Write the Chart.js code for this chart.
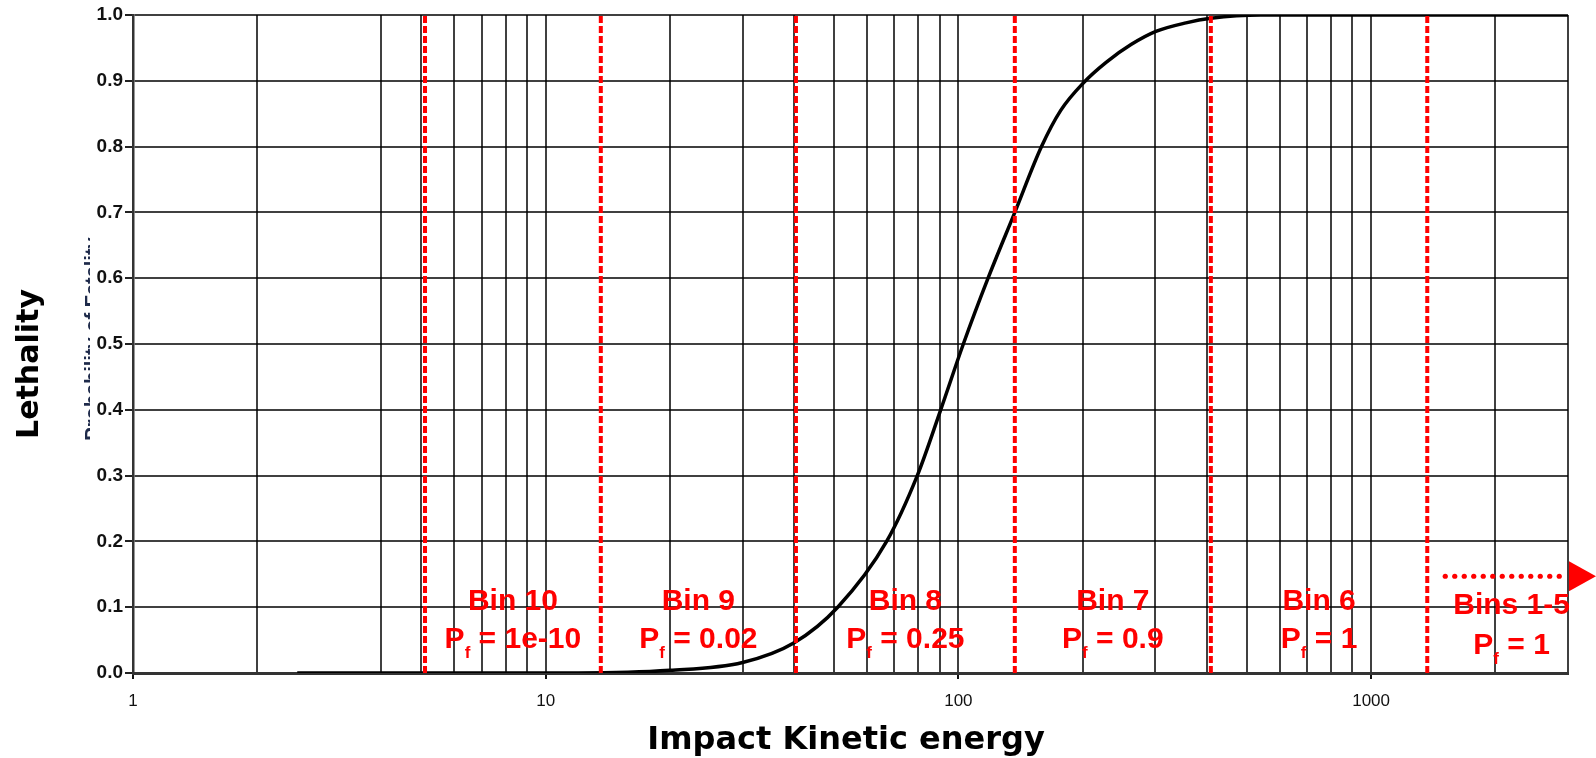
<!DOCTYPE html>
<html>
<head>
<meta charset="utf-8">
<script src="https://cdn.jsdelivr.net/npm/chart.js@4.4.1/dist/chart.umd.min.js"></script>
<style>
  html, body { margin: 0; padding: 0; background: #fff; }
  #wrap { width: 1596px; height: 758px; }
</style>
</head>
<body>
<div id="wrap"><canvas id="lethalityChart" width="1596" height="758"></canvas></div>
<script>
// Lethality vs impact kinetic energy
const energy    = [2.5, 12, 20, 30, 40, 51, 67, 79.5, 90.6, 102.8, 118, 137, 159, 177, 201, 228, 262, 301, 356, 409, 541, 3000];
const lethality = [0, 0, 0.004, 0.016, 0.046, 0.1, 0.2, 0.3, 0.4, 0.5, 0.6, 0.7, 0.8, 0.855, 0.897, 0.928, 0.955, 0.975, 0.988, 0.995, 1, 1];

// bin boundaries (red dotted lines) and their labels
const binEdges = [5.1, 13.6, 40.4, 137, 409, 1368];
const binNames = ['Bin 10', 'Bin 9', 'Bin 8', 'Bin 7', 'Bin 6', 'Bins 1-5'];
const binPf    = ['1e-10', '0.02', '0.25', '0.9', '1', '1'];

// axis ticks / grid
const xGridVals  = [1, 2, 4, 5, 6, 7, 8, 9, 10, 20, 30, 40, 50, 60, 70, 80, 90, 100, 200, 300, 400, 500, 600, 700, 800, 900, 1000, 2000, 3000];
const xLabelVals = [1, 10, 100, 1000];
const yTicks     = [0, 0.1, 0.2, 0.3, 0.4, 0.5, 0.6, 0.7, 0.8, 0.9, 1.0];

const RED = '#ff0000';
const GRID = 'rgba(0,0,0,0.75)';

const curve = energy.map((e, i) => ({ x: e, y: lethality[i] }));

const binLineSets = binEdges.map(e => ({
    data: [{ x: e, y: 0 }, { x: e, y: 1 }],
    borderColor: RED,
    borderWidth: 4,
    borderDash: [7, 3],
    pointRadius: 0,
    order: 0
}));

// labels, arrow and axis titles
const overlay = {
    id: 'overlay',
    afterDraw(chart) {
        const { ctx, scales: { x, y } } = chart;
        ctx.save();

        // faint leftover of the original y title
        ctx.save();
        ctx.beginPath();
        ctx.rect(60, 0, 30, 758);
        ctx.clip();
        ctx.translate(93, 339);
        ctx.rotate(-Math.PI / 2);
        ctx.font = 'bold 20px "Liberation Sans"';
        ctx.fillStyle = '#1e2a4a';
        ctx.textAlign = 'center';
        ctx.textBaseline = 'middle';
        ctx.fillText('Probability of Fatality', 0, 0);
        ctx.restore();

        // bin labels
        const edgesPx = binEdges.map(e => x.getPixelForValue(e));
        edgesPx.push(chart.width);
        ctx.fillStyle = RED;
        ctx.textBaseline = 'middle';
        binNames.forEach((name, i) => {
            const cx = (edgesPx[i] + edgesPx[i + 1]) / 2;
            const last = i === binNames.length - 1;
            const y1 = last ? 606 : 602;
            const y2 = last ? 646 : 640;
            ctx.font = 'bold 30px "Liberation Sans"';
            ctx.textAlign = 'center';
            ctx.fillText(name, cx, y1);

            const rest = ' = ' + binPf[i];
            const wP = ctx.measureText('P').width;
            const wR = ctx.measureText(rest).width;
            ctx.font = 'bold 17px "Liberation Sans"';
            const wF = ctx.measureText('f').width;
            const sx = cx - (wP + wF + wR) / 2;
            ctx.textAlign = 'left';
            ctx.font = 'bold 30px "Liberation Sans"';
            ctx.fillText('P', sx, y2);
            ctx.font = 'bold 17px "Liberation Sans"';
            ctx.fillText('f', sx + wP, y2 + 13);
            ctx.font = 'bold 30px "Liberation Sans"';
            ctx.fillText(rest, sx + wP + wF, y2);
        });

        // dotted arrow pointing right
        const ay = y.getPixelForValue(0.147);
        const ax0 = edgesPx[edgesPx.length - 2] + 18;
        for (let px = ax0; px < 1567; px += 9.5) {
            ctx.beginPath();
            ctx.arc(px, ay, 2.6, 0, Math.PI * 2);
            ctx.fill();
        }
        ctx.beginPath();
        ctx.moveTo(1569, ay - 15);
        ctx.lineTo(1596, ay);
        ctx.lineTo(1569, ay + 15);
        ctx.closePath();
        ctx.fill();

        // axis titles
        ctx.fillStyle = '#000';
        ctx.font = 'bold 32px "DejaVu Sans"';
        ctx.textAlign = 'center';
        ctx.textBaseline = 'middle';
        ctx.fillText('Impact Kinetic energy', 846, 741);

        ctx.translate(30, 364);
        ctx.rotate(-Math.PI / 2);
        ctx.font = 'bold 30px "DejaVu Sans"';
        ctx.fillText('Lethality', 0, 0);

        ctx.restore();
    }
};

new Chart(document.getElementById('lethalityChart'), {
    type: 'line',
    data: {
        datasets: [{
            data: curve,
            borderColor: '#000',
            borderWidth: 3.5,
            pointRadius: 0,
            cubicInterpolationMode: 'monotone',
            order: 1
        }, ...binLineSets]
    },
    options: {
        responsive: false,
        animation: false,
        layout: { padding: { left: 0, top: 15, right: 28, bottom: 0 } },
        plugins: {
            legend: { display: false },
            tooltip: { enabled: false }
        },
        scales: {
            x: {
                type: 'logarithmic',
                min: 1,
                max: 3000,
                afterBuildTicks: s => { s.ticks = xGridVals.map(v => ({ value: v })); },
                afterFit: s => { s.height = 85; },
                ticks: {
                    autoSkip: false,
                    maxRotation: 0,
                    padding: 12,
                    color: '#111',
                    font: { family: 'Liberation Sans', size: 17 },
                    callback: v => xLabelVals.includes(v) ? String(v) : ''
                },
                grid: {
                    color: GRID,
                    lineWidth: 2,
                    tickLength: 6,
                    tickColor: c => xLabelVals.includes(c.tick && c.tick.value) ? '#111' : 'rgba(0,0,0,0)'
                },
                border: { color: '#333', width: 3 }
            },
            y: {
                min: 0,
                max: 1,
                afterBuildTicks: s => { s.ticks = yTicks.map(v => ({ value: v })); },
                afterFit: s => { s.width = 133; },
                ticks: {
                    padding: 2,
                    color: '#111',
                    font: { family: 'Liberation Sans', size: 19, weight: 'bold' },
                    callback: v => Number(v).toFixed(1)
                },
                grid: { color: GRID, lineWidth: 2, tickLength: 8, tickColor: '#222' },
                border: { color: '#333', width: 2.5 }
            }
        }
    },
    plugins: [overlay]
});
</script>
</body>
</html>
